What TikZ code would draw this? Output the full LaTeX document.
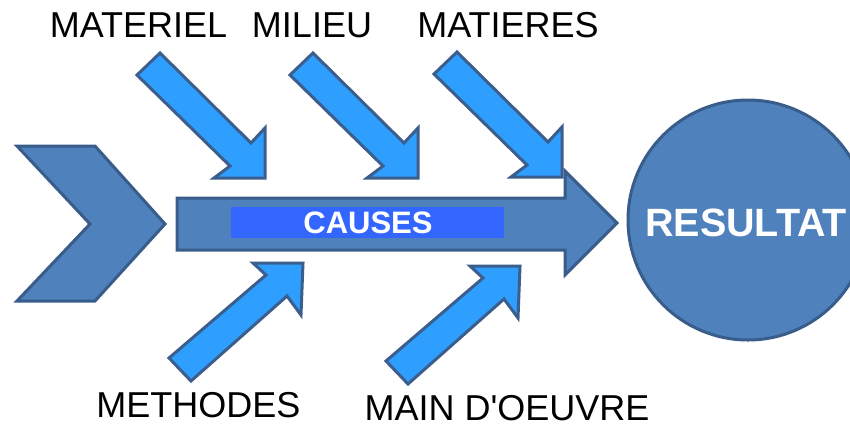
\documentclass[tikz,border=0pt]{standalone}
\usepackage{fontspec}
\setmainfont{Liberation Sans}[Ligatures=TeXOff]
\definecolor{mainfill}{RGB}{79,129,189}
\definecolor{mainedge}{RGB}{56,93,138}
\definecolor{lightfill}{RGB}{46,158,255}
\definecolor{lightedge}{RGB}{59,94,140}
\definecolor{causefill}{RGB}{51,102,255}
\tikzset{
  bigshape/.style={fill=mainfill,draw=mainedge,line width=3pt,line join=miter},
  smallarrow/.style={fill=lightfill,draw=lightedge,line width=3pt,line join=miter},
  label/.style={font=\fontsize{36}{40}\selectfont,text=black,inner sep=0pt},
  whitelabel/.style={font=\bfseries\fontsize{#1}{#1}\selectfont,text=white,inner sep=0pt}
}
\begin{document}
\begin{tikzpicture}[x=1pt,y=-1pt]
\useasboundingbox (0,0) rectangle (850,424);
\clip (0,0) rectangle (850,424);
% chevron
\draw[bigshape] (17,146) -- (95,146) -- (165,224) -- (95,301) -- (17,301) -- (90,224) -- cycle;
% main arrow
\draw[bigshape] (177,198) -- (565,198) -- (565,171) -- (617,223) -- (565,275) -- (565,250) -- (177,250) -- cycle;
\node[fill=causefill,minimum width=273pt,minimum height=31pt,inner sep=0pt] (causebox) at (367.5,222.5) {};
\node[whitelabel=31] (causes) at (368,222.5) {CAUSES};
% result circle
\draw[bigshape] (748,220) circle (120);
\node[whitelabel=39.5,anchor=west] (resultat) at (645,223) {RESULTAT};
% upper arrows (pointing down-right)
\foreach \tx/\ty in {265/178, 418/178, 562/177}{
  \draw[smallarrow] (\tx,\ty) -- ++(0,-50) -- ++(-14,15) -- ++(-91,-90) -- ++(-23,22) -- ++(93,91) -- ++(-16,12) -- cycle;
}
% lower arrows (pointing up-right)
\foreach \tx/\ty in {303/263, 520/266}{
  \draw[smallarrow] (\tx,\ty) -- ++(-50,0) -- ++(13,12) -- ++(-97,83) -- ++(22,23) -- ++(96,-85) -- ++(14,19) -- cycle;
}
% labels
\node[label] (materiel) at (138.5,25) {MATERIEL};
\node[label] (milieu) at (312,25) {MILIEU};
\node[label] (matieres) at (508,25) {MATIERES};
\node[label] (methodes) at (198.5,405) {METHODES};
\node[label] (main) at (507,408) {MAIN D'OEUVRE};
\end{tikzpicture}
\end{document}
